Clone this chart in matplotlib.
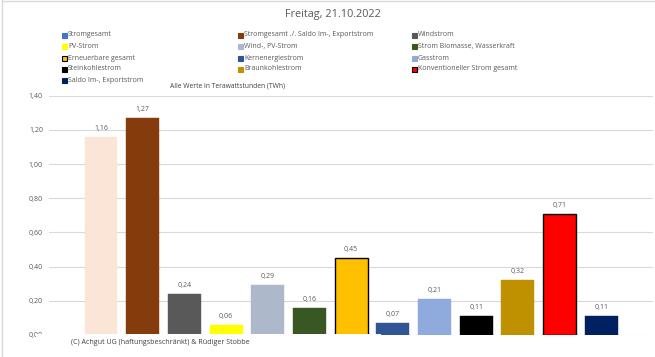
import matplotlib.pyplot as plt
from matplotlib.patches import Rectangle

plt.rcParams['font.family'] = ['Open Sans', 'DejaVu Sans']

title = 'Freitag, 21.10.2022'
labels = ['Stromgesamt', 'Stromgesamt ./. Saldo Im-, Exportstrom', 'Windstrom',
          'PV-Strom', 'Wind-, PV-Strom', 'Strom Biomasse, Wasserkraft',
          'Erneuerbare gesamt', 'Kernenergiestrom', 'Gasstrom',
          'Steinkohlestrom', 'Braunkohlestrom', 'Konventioneller Strom gesamt',
          'Saldo Im-, Exportstrom']
values = [1.16, 1.27, 0.24, 0.06, 0.29, 0.16, 0.45, 0.07, 0.21, 0.11, 0.32, 0.71, 0.11]
bar_colors = ['#FBE5D6', '#843C0C', '#595959', '#FFFF00', '#ADB9CA', '#385723',
              '#FFC000', '#2F5597', '#8FAADC', '#000000', '#BF9000', '#FF0000', '#002060']
legend_colors = ['#4472C4'] + bar_colors[1:]
edged = [6, 11]
yticks = [0, 0.2, 0.4, 0.6, 0.8, 1.0, 1.2, 1.4]

W, H = 655, 357
fig = plt.figure(figsize=(W / 100, H / 100), dpi=100)

# plot area (pixel layout from reference)
left, right, top, bottom = 49, 653, 95.8, 335
ax = fig.add_axes([left / W, (H - bottom) / H, (right - left) / W, (bottom - top) / H])

xs = list(range(len(values)))
for i, (x, v, c) in enumerate(zip(xs, values, bar_colors)):
    ec = 'black' if i in edged else c
    lw = 1.0 if i in edged else 0.3
    ax.bar(x, v, width=0.79, color=c, edgecolor=ec, linewidth=lw, zorder=3)
    ax.annotate(('%.2f' % v).replace('.', ','), (x, v), xytext=(0, 6.2),
                textcoords='offset points', ha='center', va='center',
                fontsize=5.0, color='#595959')

ax.set_xlim(-1.247, 13.24)
ax.set_ylim(0, 1.4)
ax.set_yticks(yticks)
ax.set_yticklabels([('%.2f' % t).replace('.', ',') for t in yticks], fontsize=5.0, color='#595959')
ax.set_xticks([])
ax.tick_params(axis='y', length=0, pad=4.3)
ax.grid(axis='y', color='#D9D9D9', linewidth=0.8, zorder=0)
for s in ax.spines.values():
    s.set_visible(False)

# title and note
fig.text(333 / W, 1 - 15 / H, title, ha='center', va='center', fontsize=7.8, color='#595959')
fig.text(228 / W, 1 - 86 / H, 'Alle Werte in Terawattstunden (TWh)', ha='center', va='center',
         fontsize=4.9, color='#404040')

# legend
col_x = [62, 238, 412]
row_y = [35, 46.5, 58, 69, 80.3]
for i, (lab, c) in enumerate(zip(labels, legend_colors)):
    px = col_x[i % 3]
    py = row_y[i // 3]
    ec = 'black' if i in edged else c
    fig.add_artist(Rectangle((px / W, 1 - (py + 2.5) / H), 5 / W, 5 / H,
                             transform=fig.transFigure, facecolor=c, edgecolor=ec, linewidth=0.8))
    fig.text((px + 6) / W, 1 - py / H, lab, ha='left', va='center', fontsize=5.0, color='#595959')

# copyright box covering bottom of plot
fig.add_artist(Rectangle((36 / W, 0), (381 - 36) / W, (H - 334.2) / H, transform=fig.transFigure,
                         facecolor='white', edgecolor='none', zorder=10))
fig.text(71 / W, 1 - 343 / H, '(C) Achgut UG (haftungsbeschränkt) & Rüdiger Stobbe',
         ha='left', va='center', fontsize=5.1, color='#404040', zorder=11)

# chart border (top and left visible)
fig.add_artist(plt.Line2D([1.5 / W, 1], [1 - 0.5 / H, 1 - 0.5 / H], transform=fig.transFigure,
                          color='#D9D9D9', linewidth=1))
fig.add_artist(plt.Line2D([1.5 / W, 1.5 / W], [0, 1], transform=fig.transFigure,
                          color='#D9D9D9', linewidth=1))

fig.savefig('out.png', dpi=100)
